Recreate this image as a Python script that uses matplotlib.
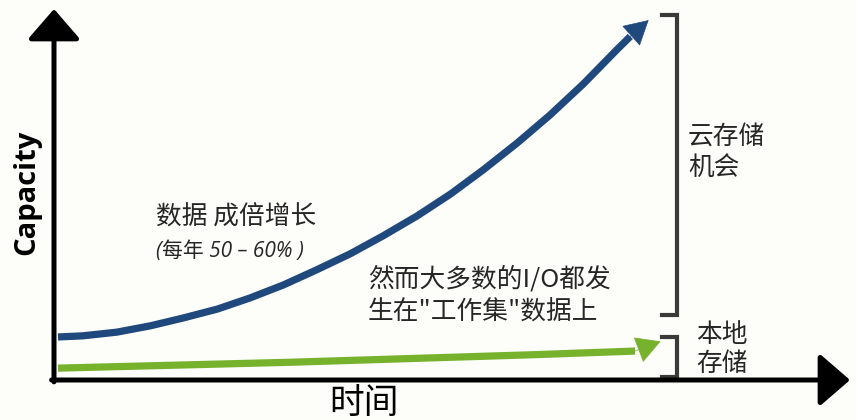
import matplotlib.pyplot as plt

plt.rcParams['font.family'] = ['Noto Sans CJK SC', 'DejaVu Sans']

# blue curve: total data (time 0-100, capacity 0-100)
data_t = [0.5, 3.6, 7.9, 12.1, 16.2, 20.5, 24.6, 28.8, 33.0, 37.2, 41.3, 45.6,
          49.8, 53.9, 58.2, 62.3, 66.5, 70.7, 72.4]
data_cap = [11.6, 11.9, 12.9, 14.6, 16.7, 19.1, 22.1, 25.6, 29.7, 34.0, 38.8, 44.2,
            50.1, 56.6, 63.9, 71.4, 79.8, 89.0, 92.6]
data_tip = (74.7, 97.0)

# green line: working set
work_t = [0.5, 30.0, 60.0, 73.0]
work_cap = [3.2, 4.8, 6.8, 7.8]
work_tip = (76.2, 10.4)

blue = '#1f497d'
green = '#77b22d'
ink = '#262626'
bg = '#fdfdf9'

fig = plt.figure(figsize=(8.56, 4.2), dpi=100, facecolor=bg)
ax = fig.add_axes([54 / 856, 40 / 420, 796 / 856, 371 / 420])
ax.set_xlim(0, 100)
ax.set_ylim(0, 100)
ax.axis('off')


def fig_xy(px, py):
    return px / 856, 1 - py / 420


# axes with arrow heads
axis_arrow = dict(arrowstyle='-|>,head_length=0.75,head_width=0.65', color='black',
                  lw=3.6, mutation_scale=25, shrinkA=0, shrinkB=0)
ax.annotate('', xy=(0, 100), xytext=(0, -0.5), arrowprops=axis_arrow, annotation_clip=False)
ax.annotate('', xy=(100, 0), xytext=(-0.3, 0), arrowprops=axis_arrow, annotation_clip=False)

# curves
ax.plot(data_t, data_cap, color=blue, lw=5.2, solid_capstyle='butt',
        solid_joinstyle='round', clip_on=False)
ax.annotate('', xy=data_tip, xytext=(data_t[-1], data_cap[-1]),
            arrowprops=dict(arrowstyle='-|>,head_length=0.9,head_width=0.5', color=blue,
                            lw=0.5, mutation_scale=18, shrinkA=0, shrinkB=0),
            annotation_clip=False)
ax.plot(work_t, work_cap, color=green, lw=5.2, solid_capstyle='butt', clip_on=False)
ax.annotate('', xy=work_tip, xytext=(work_t[-1], work_cap[-1]),
            arrowprops=dict(arrowstyle='-|>,head_length=0.9,head_width=0.5', color=green,
                            lw=0.5, mutation_scale=18, shrinkA=0, shrinkB=0),
            annotation_clip=False)

# brackets
ax.plot([76.4, 78.3, 78.3, 76.4], [98.4, 98.4, 17.5, 17.5], color='#3a3a3a', lw=3,
        solid_joinstyle='miter', clip_on=False)
ax.plot([76.4, 78.3, 78.3, 76.4], [11.6, 11.6, 0.9, 0.9], color='#3a3a3a', lw=3,
        solid_joinstyle='miter', clip_on=False)

# labels
fig.text(*fig_xy(27, 192), 'Capacity', rotation=90, ha='center', va='center',
         fontsize=21, fontweight='bold', family=['Open Sans', 'DejaVu Sans'], color='black')
fig.text(*fig_xy(364, 403), '时间', ha='center', va='center', fontsize=25, color='black')

fig.text(*fig_xy(156, 218), '数据 成倍增长', ha='left', va='center', fontsize=18.5, color=ink)
fig.text(*fig_xy(156, 251), '(每年 50 – 60% )', ha='left', va='center', fontsize=15,
         style='italic', family=['Open Sans', 'Noto Sans CJK SC'], color=ink)
fig.text(*fig_xy(368, 279), '然而大多数的I/O都发', ha='left', va='center', fontsize=18.5,
         color=ink)
fig.text(*fig_xy(368, 313), '生在"工作集"数据上', ha='left', va='center', fontsize=18.5,
         color=ink)
fig.text(*fig_xy(688, 153), '云存储\n机会', ha='left', va='center', fontsize=18.5,
         color=ink, linespacing=1.2)
fig.text(*fig_xy(696, 349), '本地\n存储', ha='left', va='center', fontsize=18.5,
         color=ink, linespacing=1.15)

fig.savefig('out.png', dpi=100, facecolor=bg)
